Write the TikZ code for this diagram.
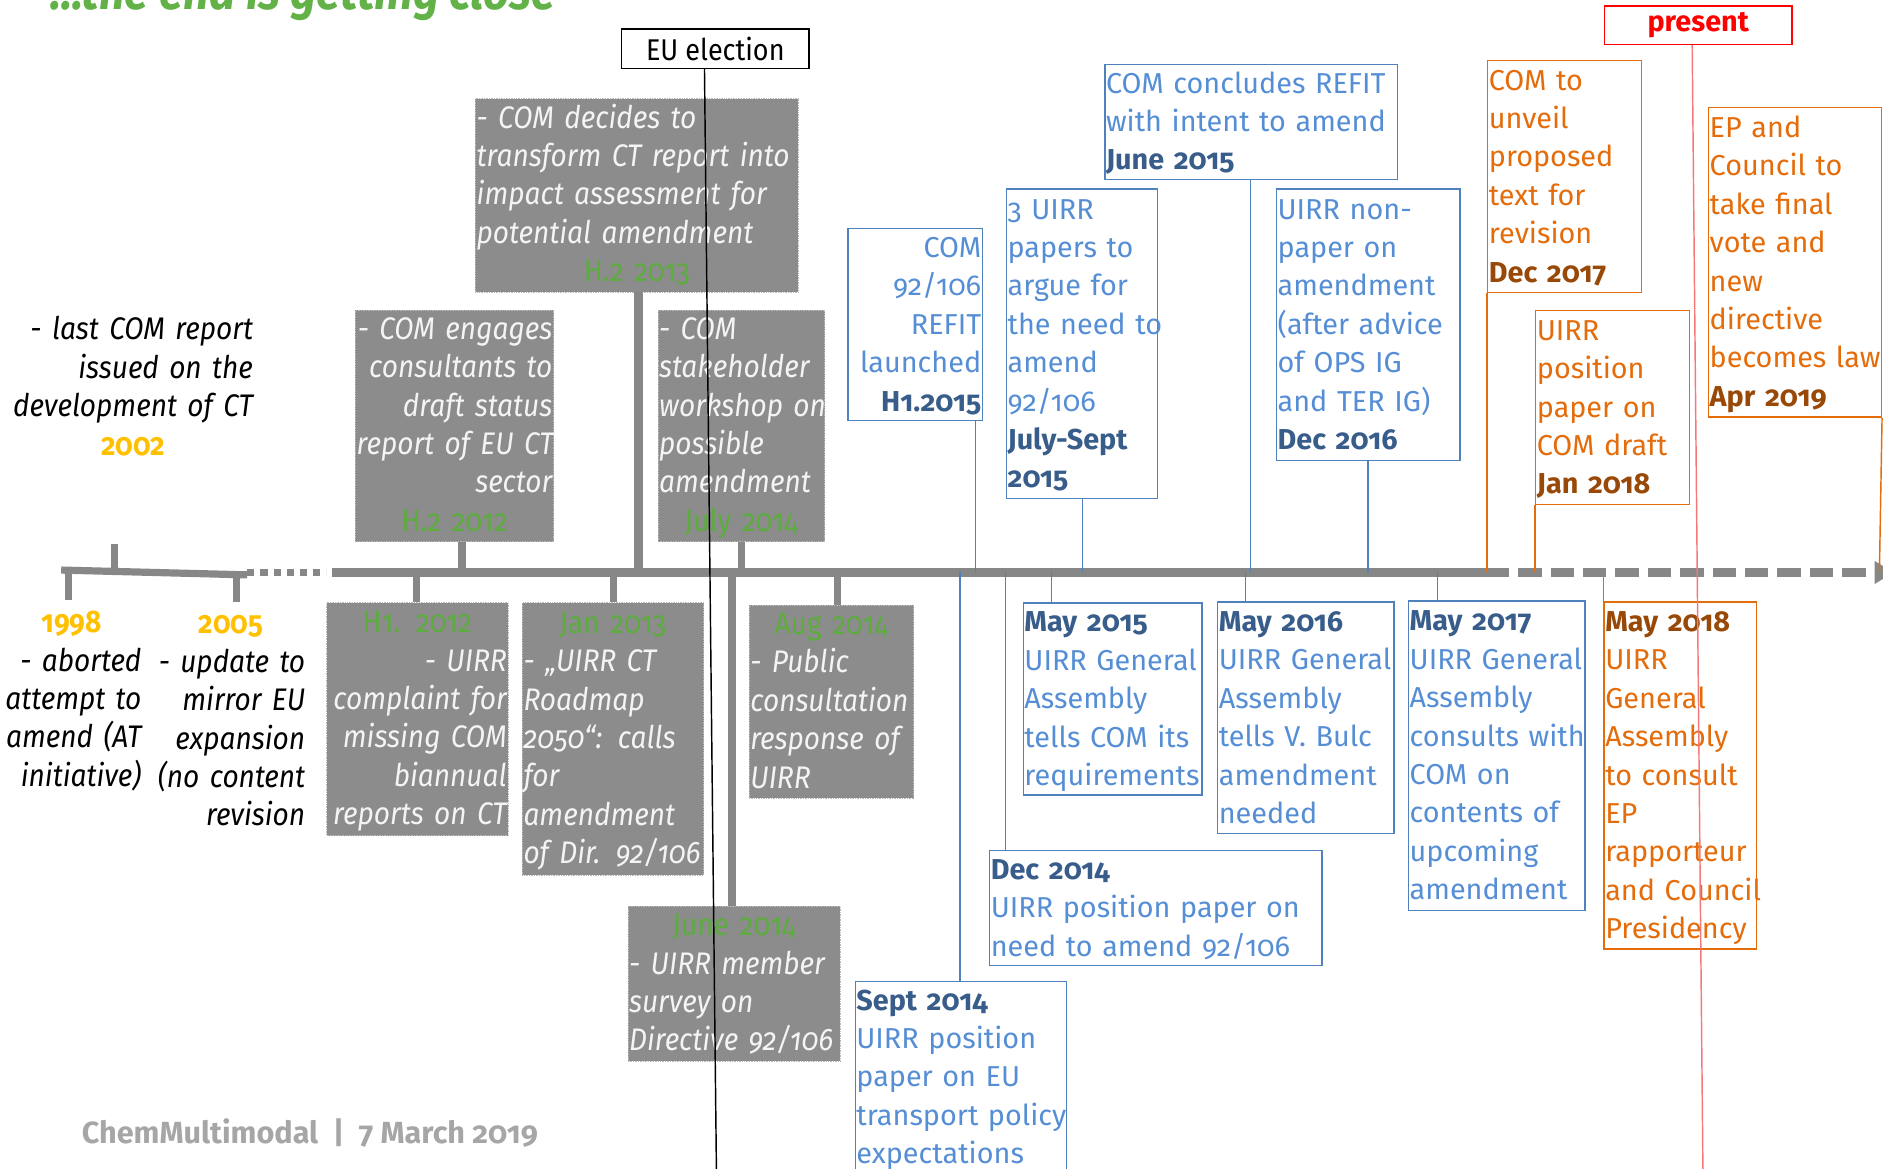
\documentclass[tikz,border=0pt]{standalone}
\usepackage{fontspec}
\setmainfont{Fira Sans}[Numbers=OldStyle]
\newfontfamily\cf{Fira Sans}[FakeStretch=0.9,Numbers=OldStyle]
\usetikzlibrary{arrows.meta}
\definecolor{axisgray}{RGB}{135,135,135}
\definecolor{boxgray}{RGB}{140,140,140}
\definecolor{gtext}{RGB}{244,244,244}
\definecolor{dgreen}{RGB}{92,172,62}
\definecolor{tgreen}{RGB}{98,178,72}
\definecolor{yell}{RGB}{255,192,0}
\definecolor{bblue}{RGB}{79,129,189}
\definecolor{tblue}{RGB}{85,142,213}
\definecolor{dblue}{RGB}{56,93,138}
\definecolor{oline}{RGB}{228,108,10}
\definecolor{odate}{RGB}{152,72,7}
\definecolor{redc}{RGB}{255,0,0}
\definecolor{redline}{RGB}{244,120,120}
\definecolor{footgray}{RGB}{166,166,166}
\newcommand\ls{\rule[-8pt]{0pt}{32pt}}
\newcommand\tline[1]{\mbox{\ls#1}}
\newcommand\gdate[1]{\makebox[\linewidth]{\ls\upshape\color{dgreen}#1}}
\newcommand\ydate[1]{\makebox[\linewidth]{\ls\upshape\bfseries\color{yell}#1}}
\newcommand\bdate[1]{\mbox{\ls\bfseries\color{dblue}#1}}
\newcommand\odt[1]{\mbox{\ls\bfseries\color{odate}#1}}
\newcommand\gfnt{\cf\itshape\fontsize{26}{32}\selectfont}
\newcommand\bfnt{\fontsize{24}{32}\selectfont}
\tikzset{
  gbox/.style={fill=boxgray, draw=boxgray!60!white, densely dotted, inner xsep=1pt, inner ysep=0pt, anchor=north west, font=\gfnt, text=gtext},
  bbox/.style={draw=bblue, line width=1.2pt, inner xsep=1pt, inner ysep=0pt, anchor=north west, font=\bfnt, text=tblue},
  obox/.style={draw=oline, line width=1.2pt, inner xsep=1pt, inner ysep=0pt, anchor=north west, font=\bfnt, text=oline},
  ltext/.style={inner sep=0pt, anchor=north east, font=\gfnt, text=black},
  bline/.style={draw=bblue, line width=1.2pt},
  oconn/.style={draw=oline, line width=1.2pt},
  gtick/.style={draw=axisgray, line width=6pt},
  axisline/.style={draw=axisgray, line width=7pt},
}
\begin{document}
\begin{tikzpicture}[x=1pt,y=-1pt]
\useasboundingbox (0,0) rectangle (1569,974);
\clip (0,0) rectangle (1569,974);

% title and footer
\node[anchor=base west, inner sep=0pt, font=\cf\bfseries\itshape\fontsize{42}{46}\selectfont, text=tgreen] (title) at (42,8) {...the end is getting close};
\node[anchor=base west, inner sep=0pt, font=\bfseries\fontsize{25.5}{30}\selectfont, text=footgray] (foot) at (68,953) {ChemMultimodal\ \ |\ \ 7 March 2019};

% axis coordinates
\coordinate (axL) at (51,475);
\coordinate (axLr) at (206,479);
\coordinate (axD0) at (206,477);
\coordinate (axD1) at (272,477);
\coordinate (axS0) at (277,477);
\coordinate (axS1) at (1238,477);
\coordinate (axE) at (1578,477);
\draw[axisline, line width=6pt] (axL) -- (axLr);
\draw[axisline, line width=6pt, dash pattern=on 6pt off 5pt] (axD0) -- (axD1);
\draw[axisline] (axS0) -- (axS1);
\draw[axisline, dash pattern=on 19.5pt off 7.5pt, -{Triangle[length=16pt,width=18pt]}] (axS1) -- (axE);

% left stub ticks
\coordinate (lt1) at (95.5,476); \coordinate (lt1e) at (95.5,453);
\coordinate (lt2) at (57,476);   \coordinate (lt2e) at (57,500);
\coordinate (lt3) at (197,479);  \coordinate (lt3e) at (197,502);
\draw[gtick] (lt1) -- (lt1e);
\draw[gtick] (lt2) -- (lt2e);
\draw[gtick] (lt3) -- (lt3e);

% left texts
\node[ltext, text width=200pt, align=right] (l2002) at (211,259) {\tline{- last COM report}\\\tline{issued on the}\\\tline{development of CT}\\\ydate{2002}};
\node[ltext, text width=116pt, align=right] (l1998) at (118,503) {\ydate{1998}\\\tline{- aborted}\\\tline{attempt to}\\\tline{amend (AT}\\\tline{initiative)}};
\node[ltext, text width=124pt, align=right] (l2005) at (254.5,504) {\ydate{2005}\\\tline{- update to}\\\tline{mirror EU}\\\tline{expansion}\\\tline{(no content}\\\tline{revision}};

% gray boxes
\node[gbox, minimum width=269pt, minimum height=161pt, text width=267pt, align=left] (g1) at (396,82) {\tline{- COM decides to}\\\tline{transform CT report into}\\\tline{impact assessment for}\\\tline{potential amendment}\\\gdate{H.2 2013}};
\node[gbox, minimum width=165pt, minimum height=193pt, text width=163pt, align=right] (g2) at (296,258) {\tline{- COM engages}\\\tline{consultants to}\\\tline{draft status}\\\tline{report of EU CT}\\\tline{sector}\\\gdate{H.2 2012}};
\node[gbox, minimum width=139pt, minimum height=193pt, text width=137pt, align=left] (g3) at (548,258) {\tline{- COM}\\\tline{stakeholder}\\\tline{workshop on}\\\tline{possible}\\\tline{amendment}\\\gdate{July 2014}};
\node[gbox, minimum width=151pt, minimum height=194pt, text width=149pt, align=right] (g4) at (272,502) {\gdate{H1. 2012}\\\tline{- UIRR}\\\tline{complaint for}\\\tline{missing COM}\\\tline{biannual}\\\tline{reports on CT}};
\node[gbox, minimum width=151pt, minimum height=227pt, text width=149pt, align=left] (g5) at (435,502) {\gdate{Jan 2013}\\\tline{- „UIRR CT}\\\tline{Roadmap}\\\tline{2050“: calls}\\\tline{for}\\\tline{amendment}\\\tline{of Dir. 92/106}};
\node[gbox, minimum width=137pt, minimum height=161pt, text width=135pt, align=left] (g6) at (624,504) {\gdate{Aug 2014}\\\tline{- Public}\\\tline{consultation}\\\tline{response of}\\\tline{UIRR}};
\node[gbox, minimum width=177pt, minimum height=129pt, text width=175pt, align=left] (g7) at (523,755) {\gdate{June 2014}\\\tline{- UIRR member}\\\tline{survey on}\\\tline{Directive 92/106}};

% gray ticks
\coordinate (tg1) at (385,477);
\coordinate (tg2) at (532,477);
\coordinate (tg3) at (618,477);
\coordinate (tg4) at (347,477);
\coordinate (tg5) at (511,477);
\coordinate (tg6) at (610,477);
\coordinate (tg7) at (698,477);
\draw[gtick] (g2.south -| tg1) -- (tg1);
\draw[gtick, line width=7pt] (g1.south -| tg2) -- (tg2);
\draw[gtick] (g3.south -| tg3) -- (tg3);
\draw[gtick] (tg4) -- (g4.north -| tg4);
\draw[gtick] (tg5) -- (g5.north -| tg5);
\draw[gtick, line width=7pt] (tg6) -- (g7.north -| tg6);
\draw[gtick] (tg7) -- (g6.north -| tg7);

% blue boxes
\node[bbox, minimum width=112pt, minimum height=160pt, text width=110pt, align=right] (b1) at (706,190) {\tline{COM}\\\tline{92/106}\\\tline{REFIT}\\\tline{launched}\\\bdate{H1.2015}};
\node[bbox, minimum width=126pt, minimum height=258pt, text width=124pt, align=left] (b2) at (838,157) {\tline{3 UIRR}\\\tline{papers to}\\\tline{argue for}\\\tline{the need to}\\\tline{amend}\\\tline{92/106}\\\bdate{July-Sept}\\\bdate{2015}};
\node[bbox, minimum width=244pt, minimum height=96pt, text width=242pt, align=left] (b3) at (920,53) {\tline{COM concludes REFIT}\\\tline{with intent to amend}\\\bdate{June 2015}};
\node[bbox, minimum width=153pt, minimum height=226pt, text width=151pt, align=left] (b4) at (1063,157) {\tline{UIRR non-}\\\tline{paper on}\\\tline{amendment}\\\tline{(after advice}\\\tline{of OPS IG}\\\tline{and TER IG)}\\\bdate{Dec 2016}};
\node[bbox, minimum width=149pt, minimum height=160pt, text width=147pt, align=left] (b5) at (852,502) {\bdate{May 2015}\\\tline{UIRR General}\\\tline{Assembly}\\\tline{tells COM its}\\\tline{requirements}};
\node[bbox, minimum width=147pt, minimum height=193pt, text width=145pt, align=left] (b6) at (1014,501) {\bdate{May 2016}\\\tline{UIRR General}\\\tline{Assembly}\\\tline{tells V. Bulc}\\\tline{amendment}\\\tline{needed}};
\node[bbox, minimum width=147pt, minimum height=258pt, text width=145pt, align=left] (b7) at (1173,500) {\bdate{May 2017}\\\tline{UIRR General}\\\tline{Assembly}\\\tline{consults with}\\\tline{COM on}\\\tline{contents of}\\\tline{upcoming}\\\tline{amendment}};
\node[bbox, minimum width=277pt, minimum height=95pt, text width=275pt, align=left] (b8) at (824,708) {\bdate{Dec 2014}\\\tline{UIRR position paper on}\\\tline{need to amend 92/106}};
\node[bbox, minimum width=176pt, minimum height=160pt, text width=174pt, align=left] (b9) at (712,817) {\bdate{Sept 2014}\\\tline{UIRR position}\\\tline{paper on EU}\\\tline{transport policy}\\\tline{expectations}};

% blue connectors
\coordinate (tb1) at (813,477);
\coordinate (tb2) at (902,477);
\coordinate (tb3) at (1042,477);
\coordinate (tb4) at (1140,477);
\coordinate (tb5) at (876,477);
\coordinate (tb6) at (1038,477);
\coordinate (tb7) at (1198,477);
\coordinate (tb8) at (838,477);
\coordinate (tb9) at (800,477);
\draw[bline] (b1.south -| tb1) -- (tb1);
\draw[bline] (b2.south -| tb2) -- (tb2);
\draw[bline] (b3.south -| tb3) -- (tb3);
\draw[bline] (b4.south -| tb4) -- (tb4);
\draw[bline] (tb5) -- (b5.north -| tb5);
\draw[bline] (tb6) -- (b6.north -| tb6);
\draw[bline] (tb7) -- (b7.north -| tb7);
\draw[bline] (tb8) -- (b8.north -| tb8);
\draw[bline] (tb9) -- (b9.north -| tb9);

% orange boxes
\node[obox, minimum width=128pt, minimum height=193pt, text width=126pt, align=left] (o1) at (1239,50) {\tline{COM to}\\\tline{unveil}\\\tline{proposed}\\\tline{text for}\\\tline{revision}\\\odt{Dec 2017}};
\node[obox, minimum width=128pt, minimum height=162pt, text width=126pt, align=left] (o2) at (1279,258) {\tline{UIRR}\\\tline{position}\\\tline{paper on}\\\tline{COM draft}\\\odt{Jan 2018}};
\node[obox, minimum width=144pt, minimum height=258pt, text width=142pt, align=left] (o3) at (1423,89) {\tline{EP and}\\\tline{Council to}\\\tline{take final}\\\tline{vote and}\\\tline{new}\\\tline{directive}\\\tline{becomes law}\\\odt{Apr 2019}};
\node[obox, minimum width=127pt, minimum height=289pt, text width=125pt, align=left] (o4) at (1336,501) {\odt{May 2018}\\\tline{UIRR}\\\tline{General}\\\tline{Assembly}\\\tline{to consult}\\\tline{EP}\\\tline{rapporteur}\\\tline{and Council}\\\tline{Presidency}};

% orange connectors
\coordinate (to1) at (1239,477);
\coordinate (to2) at (1279,477);
\coordinate (to3) at (1566,477);
\coordinate (to4) at (1336,477);
\draw[oconn] (o1.south west) -- (to1);
\draw[oconn] (o2.south west) -- (to2);
\draw[oconn] (o3.south east) -- (to3);
\draw[oconn] (to4) -- (o4.north west);

% EU election and present markers
\node[draw=black, line width=1.2pt, minimum width=156pt, minimum height=33pt, inner sep=0pt, font=\cf\fontsize{25}{30}\selectfont] (eu) at (596,40.5) {EU election};
\node[draw=redc, line width=1.2pt, minimum width=156pt, minimum height=32pt, inner sep=0pt, font=\bfseries\fontsize{24}{30}\selectfont, text=redc] (pres) at (1415,21) {present};
\coordinate (eutop) at ([xshift=-9pt]eu.south);
\coordinate (eubot) at (597,980);
\coordinate (prestop) at ([xshift=-5pt]pres.south);
\coordinate (presbot) at (1419,980);
\draw[black, line width=1.2pt] (eutop) -- (eubot);
\draw[redline, line width=1.2pt] (prestop) -- (presbot);
\end{tikzpicture}
\end{document}
